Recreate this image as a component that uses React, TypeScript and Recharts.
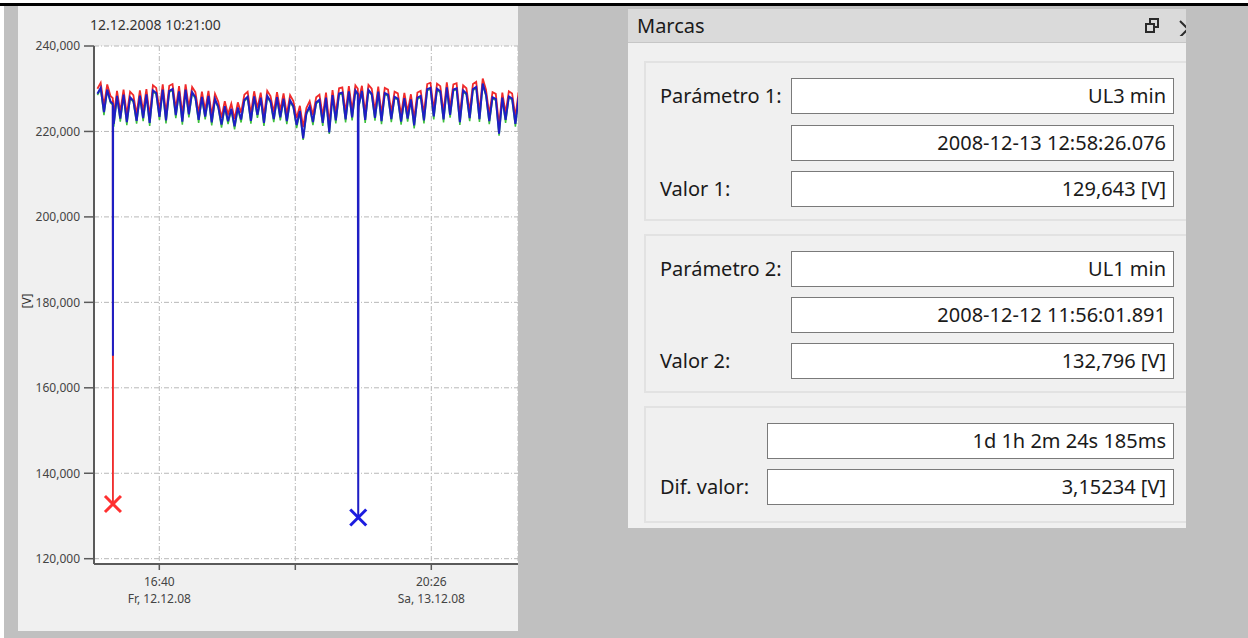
import React from 'react';
import { ComposedChart, Line, Scatter, XAxis, YAxis, CartesianGrid } from 'recharts';

const FONT = "'Noto Sans', 'Open Sans', sans-serif";

// minutes since 12.12.2008 10:21:00
const TIMES = [
  0, 20, 40, 60, 80, 94, 95, 96,
  100, 120, 140, 160, 180, 200, 220, 240, 260, 280, 300, 320, 340, 360, 380, 400, 420, 440, 460, 480, 500,
  520, 540, 560, 580, 600, 620, 640, 660, 680, 700, 720, 740, 760, 780, 800, 820, 840, 860, 880, 900,
  920, 940, 960, 980, 1000, 1020, 1040, 1060, 1080, 1100, 1120, 1140, 1160, 1180, 1200, 1220, 1240, 1260,
  1280, 1300, 1320, 1340, 1360, 1380, 1400, 1420, 1440, 1460, 1480, 1500, 1520, 1540, 1560, 1580,
  1595, 1597.4, 1599,
  1600, 1620, 1640, 1660, 1680, 1700, 1720, 1740, 1760, 1780, 1800, 1820, 1840, 1860, 1880, 1900, 1920,
  1940, 1960, 1980, 2000, 2020, 2040, 2060, 2080, 2100, 2120, 2140, 2160, 2180, 2200, 2220, 2240, 2260,
  2280, 2300, 2320, 2340, 2360, 2380, 2400, 2420, 2440, 2460, 2480, 2500, 2520, 2540, 2560, 2580, 2600, 2620,
];

// UL1 (red)
const UL1 = [
  230.0, 231.4, 226.0, 231.0, 228.3, 227.8, 132.796, 227.3,
  223.5, 229.5, 224.6, 229.8, 223.9, 229.3, 228.5, 224.0, 229.6, 224.7, 229.9, 223.6, 230.8, 230.2, 225.0, 231.0, 224.2, 230.7, 231.1, 225.3, 230.6,
  223.9, 231.0, 225.6, 230.4, 229.2, 224.3, 229.3, 225.0, 229.5, 223.7, 228.8, 227.0, 223.2, 227.1, 224.0, 226.5, 222.9, 226.8, 224.4, 228.6,
  229.3, 224.1, 229.4, 225.4, 229.1, 223.6, 229.5, 228.3, 224.5, 229.2, 224.9, 228.9, 224.0, 228.5, 227.1, 223.1, 226.0, 221.0,
  225.5, 227.1, 223.8, 228.0, 228.6, 223.6, 229.1, 221.8, 229.7, 224.2, 230.1, 230.3, 224.4, 230.6, 224.9, 230.8,
  230.0, 224.5, 226.0,
  227.2, 230.7, 224.3, 230.9, 230.0, 224.8, 230.5, 224.0, 230.2, 229.8, 224.5, 229.3, 228.9, 223.9, 229.0, 224.6, 228.7,
  223.0, 229.1, 229.5, 224.2, 231.1, 231.4, 225.1, 231.2, 230.6, 224.4, 231.5, 225.5, 231.0, 231.3, 223.8, 230.8, 230.1,
  224.7, 231.1, 231.6, 224.5, 232.4, 229.8, 224.0, 229.2, 228.8, 221.4, 229.1, 224.3, 229.4, 228.9, 223.4, 229.3, 226.8, 229.6,
];

// UL2 (green)
const UL2 = [
  228.5, 229.9, 223.8, 229.5, 226.7, 226.2, 221.0, 225.7,
  221.1, 228.0, 222.3, 228.3, 221.5, 227.7, 226.9, 221.8, 228.1, 222.4, 228.4, 221.3, 229.3, 228.7, 222.7, 229.5, 221.9, 229.2, 229.6, 223.1, 229.1,
  221.6, 229.5, 223.3, 228.9, 227.7, 222.0, 227.8, 222.8, 228.0, 221.4, 227.3, 225.5, 220.9, 225.6, 221.7, 225.0, 220.5, 225.3, 222.1, 227.1,
  227.8, 221.8, 227.9, 223.2, 227.6, 221.3, 228.0, 226.8, 222.2, 227.7, 222.6, 227.4, 221.7, 227.0, 225.6, 220.8, 224.5, 218.0,
  224.0, 225.6, 221.5, 226.5, 227.1, 221.3, 227.6, 219.4, 228.2, 221.9, 228.6, 228.8, 222.1, 229.1, 222.6, 229.3,
  228.5, 223.0, 223.6,
  225.7, 229.2, 222.0, 229.4, 228.5, 222.5, 229.0, 221.7, 228.7, 228.3, 222.2, 227.8, 227.4, 221.6, 227.5, 222.3, 227.2,
  220.7, 227.6, 228.0, 221.9, 229.6, 229.9, 222.8, 229.7, 229.1, 222.1, 230.0, 223.2, 229.5, 229.8, 221.5, 229.3, 228.6,
  222.4, 229.6, 230.1, 222.2, 230.9, 228.3, 221.7, 227.7, 227.3, 219.0, 227.6, 222.0, 227.9, 227.4, 221.1, 227.8, 224.8, 228.1,
];

// UL3 (blue)
const UL3 = [
  228.8, 230.2, 224.5, 229.8, 227.0, 226.5, 167.5, 226.0,
  221.8, 228.3, 223.0, 228.6, 222.2, 228.0, 227.2, 222.5, 228.4, 223.1, 228.7, 222.0, 229.6, 229.0, 223.4, 229.8, 222.6, 229.5, 229.9, 223.8, 229.4,
  222.3, 229.8, 224.0, 229.2, 228.0, 222.7, 228.1, 223.5, 228.3, 222.1, 227.6, 225.8, 221.6, 225.9, 222.4, 225.3, 221.2, 225.6, 222.8, 227.4,
  228.1, 222.5, 228.2, 223.9, 227.9, 222.0, 228.3, 227.1, 222.9, 228.0, 223.3, 227.7, 222.4, 227.3, 225.9, 221.5, 224.8, 218.4,
  224.3, 225.9, 222.2, 226.8, 227.4, 222.0, 227.9, 219.8, 228.5, 222.6, 228.9, 229.1, 222.8, 229.4, 223.3, 229.6,
  228.8, 129.643, 224.0,
  226.0, 229.5, 222.7, 229.7, 228.8, 223.2, 229.3, 222.4, 229.0, 228.6, 222.9, 228.1, 227.7, 222.3, 227.8, 223.0, 227.5,
  221.4, 227.9, 228.3, 222.6, 229.9, 230.2, 223.5, 230.0, 229.4, 222.8, 230.3, 223.9, 229.8, 230.1, 222.2, 229.6, 228.9,
  223.1, 229.9, 230.4, 222.9, 231.2, 228.6, 222.4, 228.0, 227.6, 219.5, 227.9, 222.7, 228.2, 227.7, 221.8, 228.1, 225.4, 228.4,
];

// markers
const MARK1 = [{ t: 1597.4, v: 129.643 }]; // UL3 min (blue)
const MARK2 = [{ t: 95.0, v: 132.796 }]; // UL1 min (red)

const Y_TICKS = [120, 140, 160, 180, 200, 220, 240];
const X_TICKS = [379, 1212, 2045];
const X_TICK_TIMES = ['16:40', '', '20:26'];
const X_TICK_DATES = ['Fr, 12.12.08', '', 'Sa, 13.12.08'];

const rows = TIMES.map((t, i) => ({ t, ul1: UL1[i], ul2: UL2[i], ul3: UL3[i] }));

const fmtY = (v: number) => v.toFixed(3).replace('.', ',');

const XTick = (props: any) => {
  const { x, y, payload } = props;
  const idx = X_TICKS.indexOf(payload.value);
  if (idx < 0 || !X_TICK_TIMES[idx]) return null;
  return (
    <g>
      <text x={x} y={y + 14} textAnchor="middle" fontSize={12} fill="#444" fontFamily={FONT}>{X_TICK_TIMES[idx]}</text>
      <text x={x} y={y + 31} textAnchor="middle" fontSize={12} fill="#444" fontFamily={FONT}>{X_TICK_DATES[idx]}</text>
    </g>
  );
};

const cross = (color: string) => (props: any) => {
  const { cx, cy } = props;
  if (cx == null || cy == null) return <g />;
  return (
    <g>
      <line x1={cx - 8} y1={cy - 8} x2={cx + 8} y2={cy + 8} stroke={color} strokeWidth={3} />
      <line x1={cx - 8} y1={cy + 8} x2={cx + 8} y2={cy - 8} stroke={color} strokeWidth={3} />
    </g>
  );
};

const Field = ({ x, y, w, text }: { x: number; y: number; w: number; text: string }) => (
  <div
    style={{
      position: 'absolute', left: x, top: y, width: w, height: 36, boxSizing: 'border-box',
      background: '#fff', border: '1px solid #7a7a7a', textAlign: 'right', paddingRight: 7,
      fontSize: 20, lineHeight: '33px', color: '#1a1a1a', whiteSpace: 'nowrap',
    }}
  >
    {text}
  </div>
);

const Label = ({ x, cy, text }: { x: number; cy: number; text: string }) => (
  <div style={{ position: 'absolute', left: x, top: cy - 16, height: 32, lineHeight: '32px', fontSize: 20, color: '#1a1a1a', whiteSpace: 'nowrap' }}>
    {text}
  </div>
);

export default function App() {
  // right panel origin
  const PX = 628;
  const PY = 9;
  return (
    <div style={{ position: 'absolute', left: 0, top: 0, width: 1248, height: 638, background: '#c0c0c0', overflow: 'hidden', fontFamily: FONT }}>
      <div style={{ position: 'absolute', left: 0, top: 0, width: 1248, height: 3, background: '#fff' }} />
      <div style={{ position: 'absolute', left: 0, top: 0, width: 4, height: 638, background: '#fff' }} />
      <div style={{ position: 'absolute', left: 0, top: 3, width: 1248, height: 3, background: '#000' }} />

      {/* left chart panel */}
      <div style={{ position: 'absolute', left: 18, top: 6, width: 500, height: 625, background: '#f0f0f0', overflow: 'hidden' }}>
        <div style={{ position: 'absolute', left: 72, top: 10, fontSize: 14, lineHeight: '18px', color: '#333', whiteSpace: 'nowrap' }}>
          12.12.2008 10:21:00
        </div>
        <div style={{ position: 'absolute', left: -3, top: 289, width: 24, height: 12, lineHeight: '12px', fontSize: 12, color: '#333', textAlign: 'center', transform: 'rotate(-90deg)' }}>
          [V]
        </div>
        <div style={{ position: 'absolute', left: 0, top: 0 }}>
          <ComposedChart width={500} height={625} data={rows} margin={{ top: 40, right: 0, bottom: 0, left: 0 }}>
            <CartesianGrid fill="#ffffff" stroke="#b8b8b8" strokeDasharray="5 2 1 2" />
            <XAxis
              type="number"
              dataKey="t"
              domain={[-21, 2576]}
              allowDataOverflow
              ticks={X_TICKS}
              interval={0}
              tick={<XTick />}
              tickSize={6}
              height={67}
              axisLine={{ stroke: '#5a5a5a', strokeWidth: 2 }}
              tickLine={{ stroke: '#5a5a5a', strokeWidth: 1.5 }}
            />
            <YAxis
              type="number"
              domain={[118.76, 240]}
              allowDataOverflow
              ticks={Y_TICKS}
              interval={0}
              width={76}
              tickSize={10}
              tickMargin={4}
              tickFormatter={fmtY}
              tick={{ fontSize: 12, fill: '#444', fontFamily: FONT }}
              axisLine={{ stroke: '#5a5a5a', strokeWidth: 2 }}
              tickLine={{ stroke: '#5a5a5a', strokeWidth: 1.5 }}
            />
            <Line dataKey="ul2" type="linear" stroke="#3cbf3c" strokeWidth={1.5} dot={false} activeDot={false} isAnimationActive={false} />
            <Line dataKey="ul1" type="linear" stroke="#f02a2a" strokeWidth={1.8} dot={false} activeDot={false} isAnimationActive={false} />
            <Line dataKey="ul3" type="linear" stroke="#1e1ec4" strokeWidth={2} dot={false} activeDot={false} isAnimationActive={false} />
            <Scatter data={MARK2} dataKey="v" shape={cross('#ff3030')} isAnimationActive={false} />
            <Scatter data={MARK1} dataKey="v" shape={cross('#1c1ce0')} isAnimationActive={false} />
          </ComposedChart>
        </div>
      </div>

      {/* right panel "Marcas" */}
      <div style={{ position: 'absolute', left: PX, top: PY, width: 558, height: 519, background: '#f0f0f0', overflow: 'hidden' }}>
        <div style={{ position: 'absolute', left: 0, top: 0, width: 558, height: 33, background: '#dadada', borderBottom: '1px solid #c6c6c6' }}>
          <div style={{ position: 'absolute', left: 9, top: 0, lineHeight: '33px', fontSize: 20, color: '#1a1a1a' }}>Marcas</div>
          <svg style={{ position: 'absolute', left: 1144 - PX, top: 16 - PY, width: 44, height: 20 }}>
            <rect x={6} y={3} width={8} height={8} fill="none" stroke="#2a2a2a" strokeWidth={2} />
            <rect x={2} y={8} width={8} height={8} fill="#dadada" stroke="#2a2a2a" strokeWidth={2} />
            <line x1={36} y1={5} x2={44} y2={13} stroke="#2a2a2a" strokeWidth={2} />
            <line x1={36} y1={21} x2={44} y2={13} stroke="#2a2a2a" strokeWidth={2} />
          </svg>
        </div>

        {/* group boxes */}
        <div style={{ position: 'absolute', left: 644 - PX, top: 61 - PY, width: 600, height: 160, boxSizing: 'border-box', border: '2px solid #e2e2e2' }} />
        <div style={{ position: 'absolute', left: 644 - PX, top: 234 - PY, width: 600, height: 159, boxSizing: 'border-box', border: '2px solid #e2e2e2' }} />
        <div style={{ position: 'absolute', left: 644 - PX, top: 406 - PY, width: 600, height: 117, boxSizing: 'border-box', border: '2px solid #e2e2e2' }} />

        <Label x={660 - PX} cy={96 - PY} text="Parámetro 1:" />
        <Field x={791 - PX} y={78 - PY} w={383} text="UL3 min" />
        <Field x={791 - PX} y={125 - PY} w={383} text="2008-12-13 12:58:26.076" />
        <Label x={660 - PX} cy={189 - PY} text="Valor 1:" />
        <Field x={791 - PX} y={171 - PY} w={383} text="129,643 [V]" />

        <Label x={660 - PX} cy={269 - PY} text="Parámetro 2:" />
        <Field x={791 - PX} y={251 - PY} w={383} text="UL1 min" />
        <Field x={791 - PX} y={297 - PY} w={383} text="2008-12-12 11:56:01.891" />
        <Label x={660 - PX} cy={361 - PY} text="Valor 2:" />
        <Field x={791 - PX} y={343 - PY} w={383} text="132,796 [V]" />

        <Field x={767 - PX} y={423 - PY} w={407} text="1d 1h 2m 24s 185ms" />
        <Label x={660 - PX} cy={487 - PY} text="Dif. valor:" />
        <Field x={767 - PX} y={469 - PY} w={407} text="3,15234 [V]" />
      </div>
    </div>
  );
}
